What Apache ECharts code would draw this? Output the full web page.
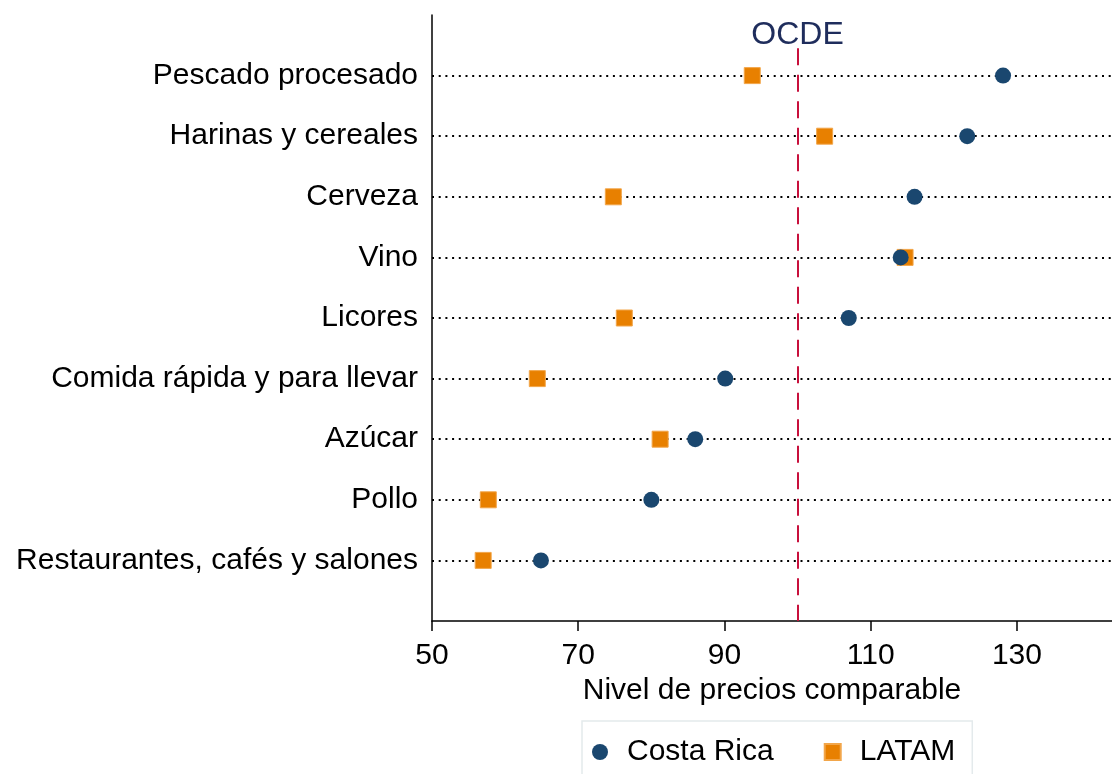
<!DOCTYPE html>
<html>
<head>
<meta charset="utf-8">
<script src="https://cdn.jsdelivr.net/npm/echarts@6/dist/echarts.min.js"></script>
<style>
    html, body { margin: 0; padding: 0; background: #fff; }
    #chart { width: 1112px; height: 774px; }
</style>
</head>
<body>
<div id="chart"></div>
<script>
    // categorias, de arriba hacia abajo
    const categories = [
        'Pescado procesado',
        'Harinas y cereales',
        'Cerveza',
        'Vino',
        'Licores',
        'Comida rápida y para llevar',
        'Azúcar',
        'Pollo',
        'Restaurantes, cafés y salones'
    ];
    const costaRica = [128.1, 123.2, 116.0, 114.1, 107.0, 90.1, 86.0, 80.0, 64.9];
    const latam = [93.8, 103.7, 74.8, 114.7, 76.3, 64.4, 81.2, 57.7, 57.0];
    const ocde = 100;
    const xTicks = [50, 70, 90, 110, 130];

    const font = '"Liberation Sans", Arial, Helvetica, sans-serif';
    const navy = '#1a476f';
    const orange = '#e88000';

    const chart = echarts.init(document.getElementById('chart'));

    // filas punteadas, una por categoria
    const rowLines = categories.map((c, i) => ({ yAxis: i + 1 }));

    const option = {
        animation: false,
        backgroundColor: '#fff',
        textStyle: { fontFamily: font },
        grid: { left: 432, top: 15, right: 0, bottom: 153 },
        legend: {
            data: ['Costa Rica', 'LATAM'],
            left: 582,
            top: 721,
            orient: 'horizontal',
            padding: [16, 17, 40, 10],
            itemGap: 50,
            itemWidth: 16,
            itemHeight: 16,
            borderColor: '#e4eaec',
            borderWidth: 1.5,
            borderRadius: 0,
            textStyle: { fontSize: 30, color: '#000', fontFamily: font, padding: [0, 0, 0, 14] }
        },
        xAxis: {
            type: 'value',
            position: 'bottom',
            min: 50,
            max: 143,
            interval: 20,
            name: 'Nivel de precios comparable',
            nameLocation: 'middle',
            nameGap: 54,
            nameTextStyle: { fontSize: 30, color: '#000', fontFamily: font },
            axisLine: { show: true, onZero: false, lineStyle: { color: '#000', width: 1.5 } },
            axisTick: { show: true, inside: false, length: 10, lineStyle: { color: '#000', width: 1.5 } },
            axisLabel: {
                fontSize: 30,
                color: '#000',
                margin: 20,
                showMaxLabel: false,
                formatter: v => xTicks.indexOf(v) >= 0 ? String(v) : ''
            },
            splitLine: { show: false }
        },
        yAxis: {
            type: 'value',
            min: 0,
            max: 10,
            interval: 1,
            inverse: true,
            axisLine: { show: true, onZero: false, lineStyle: { color: '#000', width: 1.5 } },
            axisTick: { show: false },
            axisLabel: {
                fontSize: 30,
                color: '#000',
                margin: 14,
                formatter: v => categories[v - 1] || ''
            },
            splitLine: { show: false }
        },
        series: [
            {
                name: 'LATAM',
                type: 'scatter',
                symbol: 'rect',
                symbolSize: 16,
                z: 3,
                itemStyle: { color: orange, borderColor: '#f2a64a', borderWidth: 1, opacity: 1 },
                data: latam.map((v, i) => [v, i + 1]),
                markLine: {
                    silent: true,
                    symbol: ['none', 'none'],
                    z: 1,
                    label: { show: false },
                    lineStyle: { color: '#000', width: 2, type: [2, 4.7], opacity: 1 },
                    emphasis: { disabled: true },
                    data: rowLines
                }
            },
            {
                name: 'Costa Rica',
                type: 'scatter',
                symbol: 'circle',
                symbolSize: 16,
                z: 4,
                itemStyle: { color: navy, opacity: 1 },
                data: costaRica.map((v, i) => [v, i + 1]),
                markLine: {
                    silent: true,
                    symbol: ['none', 'none'],
                    z: 2,
                    lineStyle: { color: '#c8103c', width: 2, type: [17, 9.5], opacity: 1 },
                    label: {
                        show: true,
                        position: 'start',
                        formatter: 'OCDE',
                        fontSize: 32,
                        color: '#1f2d5c',
                        fontFamily: font,
                        distance: -3
                    },
                    emphasis: { disabled: true },
                    data: [[{ coord: [ocde, 0.55] }, { coord: [ocde, 10] }]]
                }
            }
        ]
    };

    chart.setOption(option);
</script>
</body>
</html>
